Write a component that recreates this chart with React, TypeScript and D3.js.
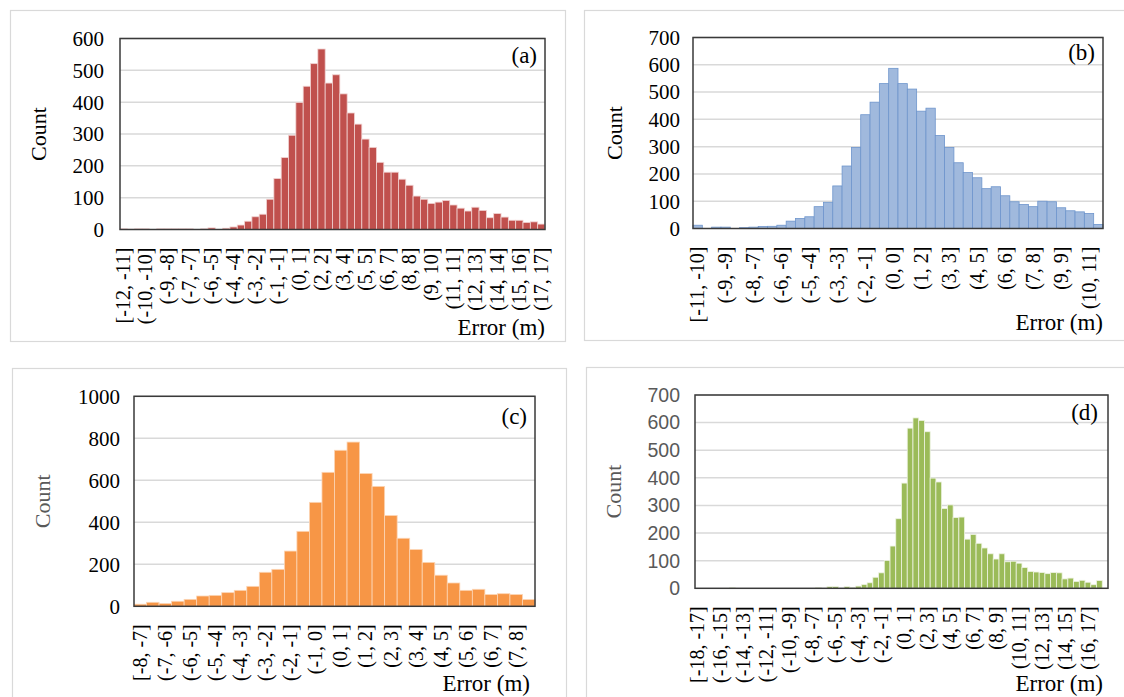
import React from "react";
import * as d3 from "d3";

// ---------- DATA ----------
const countsA = [2, 1, 2, 2, 0, 2, 2, 2, 2, 2, 0, 2, 5, 0, 4, 8, 14, 26, 40, 48, 95, 160, 226, 296, 399, 450, 521, 567, 460, 486, 426, 366, 331, 284, 258, 211, 180, 180, 158, 139, 105, 95, 82, 86, 91, 77, 67, 58, 70, 60, 37, 50, 39, 29, 29, 22, 24, 17];
const labelsA = ["[-12, -11]", "(-10, -10]", "(-9, -8]", "(-7, -7]", "(-6, -5]", "(-4, -4]", "(-3, -2]", "(-1, -1]", "(0, 1]", "(2, 2]", "(3, 4]", "(5, 5]", "(6, 7]", "(8, 8]", "(9, 10]", "(11, 11]", "(12, 13]", "(14, 14]", "(15, 16]", "(17, 17]"];
const ticksA = [0, 100, 200, 300, 400, 500, 600];

const countsB = [12, 0, 5, 5, 0, 3, 5, 7, 8, 12, 27, 37, 43, 80, 96, 156, 229, 297, 417, 463, 531, 587, 531, 511, 430, 441, 341, 297, 241, 205, 186, 146, 153, 120, 98, 88, 80, 100, 98, 76, 65, 61, 55, 15];
const labelsB = ["[-11, -10]", "(-9, -9]", "(-8, -7]", "(-6, -6]", "(-5, -4]", "(-3, -3]", "(-2, -1]", "(0, 0]", "(1, 2]", "(3, 3]", "(4, 5]", "(6, 6]", "(7, 8]", "(9, 9]", "(10, 11]"];
const ticksB = [0, 100, 200, 300, 400, 500, 600, 700];

const countsC = [10, 19, 13, 24, 33, 49, 52, 65, 76, 95, 162, 176, 263, 357, 495, 638, 743, 782, 632, 571, 432, 324, 270, 209, 148, 111, 76, 81, 56, 60, 56, 32];
const labelsC = ["[-8, -7]", "(-7, -6]", "(-6, -5]", "(-5, -4]", "(-4, -3]", "(-3, -2]", "(-2, -1]", "(-1, 0]", "(0, 1]", "(1, 2]", "(2, 3]", "(3, 4]", "(4, 5]", "(5, 6]", "(6, 7]", "(7, 8]"];
const ticksC = [0, 200, 400, 600, 800, 1000];

const countsD = [0, 0, 0, 0, 0, 0, 3, 0, 0, 0, 0, 0, 0, 0, 0, 0, 0, 0, 0, 0, 0, 3, 0, 6, 6, 0, 6, 3, 8, 14, 20, 40, 56, 101, 153, 252, 381, 580, 617, 608, 567, 399, 385, 289, 302, 256, 258, 178, 195, 163, 146, 125, 106, 125, 96, 98, 91, 75, 61, 59, 57, 53, 57, 56, 34, 37, 25, 29, 22, 13, 28, 0];
const labelsD = ["[-18, -17]", "(-16, -15]", "(-14, -13]", "(-12, -11]", "(-10, -9]", "(-8, -7]", "(-6, -5]", "(-4, -3]", "(-2, -1]", "(0, 1]", "(2, 3]", "(4, 5]", "(6, 7]", "(8, 9]", "(10, 11]", "(12, 13]", "(14, 15]", "(16, 17]"];
const ticksD = [0, 100, 200, 300, 400, 500, 600, 700];

const SERIF = '"Liberation Serif", "Times New Roman", serif';
const SANS = '"Liberation Sans", Arial, sans-serif';

type PanelCfg = {
  counts: number[];
  labels: string[];
  every: number;
  ticks: number[];
  letter: string;
  box: { x: number; y: number; w: number; h: number };
  plot: { x0: number; x1: number; y0: number; y1: number };
  fill: string;
  stroke: string;
  tickX: number;
  tickFont: string;
  tickColor: string;
  tickSize: number;
  countX: number;
  countColor: string;
  errorX: number;
  errorY: number;
  letterX: number;
  letterY: number;
};

const panels: PanelCfg[] = [
  {
    counts: countsA, labels: labelsA, every: 3, ticks: ticksA, letter: "(a)",
    box: { x: 10.5, y: 10.5, w: 555, h: 331 },
    plot: { x0: 120, x1: 545, y0: 38.5, y1: 229.5 },
    fill: "#C0504D", stroke: "#F0D2D1",
    tickX: 104, tickFont: SERIF, tickColor: "#000", tickSize: 21,
    countX: 39, countColor: "#000",
    errorX: 545, errorY: 335, letterX: 537, letterY: 63,
  },
  {
    counts: countsB, labels: labelsB, every: 3, ticks: ticksB, letter: "(b)",
    box: { x: 584.5, y: 10.5, w: 560, h: 330 },
    plot: { x0: 693, x1: 1103, y0: 37.5, y1: 228.5 },
    fill: "#A0B9DD", stroke: "#6E95CC",
    tickX: 680, tickFont: SERIF, tickColor: "#000", tickSize: 21,
    countX: 615, countColor: "#000",
    errorX: 1103, errorY: 330, letterX: 1095, letterY: 60,
  },
  {
    counts: countsC, labels: labelsC, every: 2, ticks: ticksC, letter: "(c)",
    box: { x: 12.5, y: 368.5, w: 554, h: 340 },
    plot: { x0: 134, x1: 535, y0: 396.3, y1: 606.3 },
    fill: "#F79646", stroke: "#FCD5B5",
    tickX: 120, tickFont: SERIF, tickColor: "#000", tickSize: 21,
    countX: 43, countColor: "#595959",
    errorX: 530, errorY: 691, letterX: 527, letterY: 424,
  },
  {
    counts: countsD, labels: labelsD, every: 4, ticks: ticksD, letter: "(d)",
    box: { x: 586.5, y: 367.5, w: 560, h: 340 },
    plot: { x0: 695, x1: 1108, y0: 395, y1: 588.3 },
    fill: "#9BBB59", stroke: "#EEF3E3",
    tickX: 680, tickFont: SANS, tickColor: "#595959", tickSize: 19.5,
    countX: 614, countColor: "#595959",
    errorX: 1103, errorY: 691, letterX: 1098, letterY: 420,
  },
];

function Panel({ cfg }: { cfg: PanelCfg }) {
  const { plot } = cfg;
  const idx = cfg.counts.map((_, i) => i);
  const x = d3.scaleBand<number>().domain(idx).range([plot.x0, plot.x1]).paddingInner(0).paddingOuter(0);
  const yMax = cfg.ticks[cfg.ticks.length - 1];
  const y = d3.scaleLinear().domain([0, yMax]).range([plot.y1, plot.y0]);
  const bw = x.bandwidth();
  const midY = (plot.y0 + plot.y1) / 2;
  return (
    <g>
      <rect x={cfg.box.x} y={cfg.box.y} width={cfg.box.w} height={cfg.box.h} fill="#fff" stroke="#D9D9D9" strokeWidth={1.2} />
      {cfg.ticks.slice(1).map((t) => (
        <line key={"g" + t} x1={plot.x0} x2={plot.x1} y1={y(t)} y2={y(t)} stroke="#D9D9D9" strokeWidth={1.5} />
      ))}
      {cfg.counts.map((v, i) => (
        v > 0 ? (
          <rect key={"b" + i} x={x(i)!} y={y(v)} width={bw} height={y(0) - y(v)} fill={cfg.fill} stroke={cfg.stroke} strokeWidth={0.8} />
        ) : null
      ))}
      <rect x={plot.x0} y={plot.y0} width={plot.x1 - plot.x0} height={plot.y1 - plot.y0} fill="none" stroke="#3A3A3A" strokeWidth={1.5} />
      {cfg.ticks.map((t) => (
        <text key={"t" + t} x={cfg.tickX} y={y(t)} dy="0.35em" textAnchor="end" fontFamily={cfg.tickFont} fontSize={cfg.tickSize} fill={cfg.tickColor}>{t}</text>
      ))}
      {cfg.labels.map((lab, k) => {
        const cx = x(k * cfg.every)! + bw / 2;
        const ty = plot.y1 + 18;
        return (
          <text key={"l" + k} transform={`translate(${cx},${ty}) rotate(-90)`} dy="0.33em" textAnchor="end" fontFamily={SERIF} fontSize={20} fill="#000">{lab}</text>
        );
      })}
      <text transform={`translate(${cfg.countX},${midY}) rotate(-90)`} dy="0.33em" textAnchor="middle" fontFamily={SERIF} fontSize={22} fill={cfg.countColor}>Count</text>
      <text x={cfg.errorX} y={cfg.errorY} textAnchor="end" fontFamily={SERIF} fontSize={23} fill="#000">Error (m)</text>
      <text x={cfg.letterX} y={cfg.letterY} textAnchor="end" fontFamily={SERIF} fontSize={23} fill="#000">{cfg.letter}</text>
    </g>
  );
}

export default function App() {
  return (
    <div style={{ position: "absolute", left: 0, top: 0, width: 1124, height: 697, overflow: "hidden", background: "#fff" }}>
      <svg width={1124} height={697} style={{ display: "block" }}>
        <rect x={0} y={0} width={1124} height={697} fill="#fff" />
        {panels.map((p, i) => (
          <Panel key={i} cfg={p} />
        ))}
      </svg>
    </div>
  );
}
